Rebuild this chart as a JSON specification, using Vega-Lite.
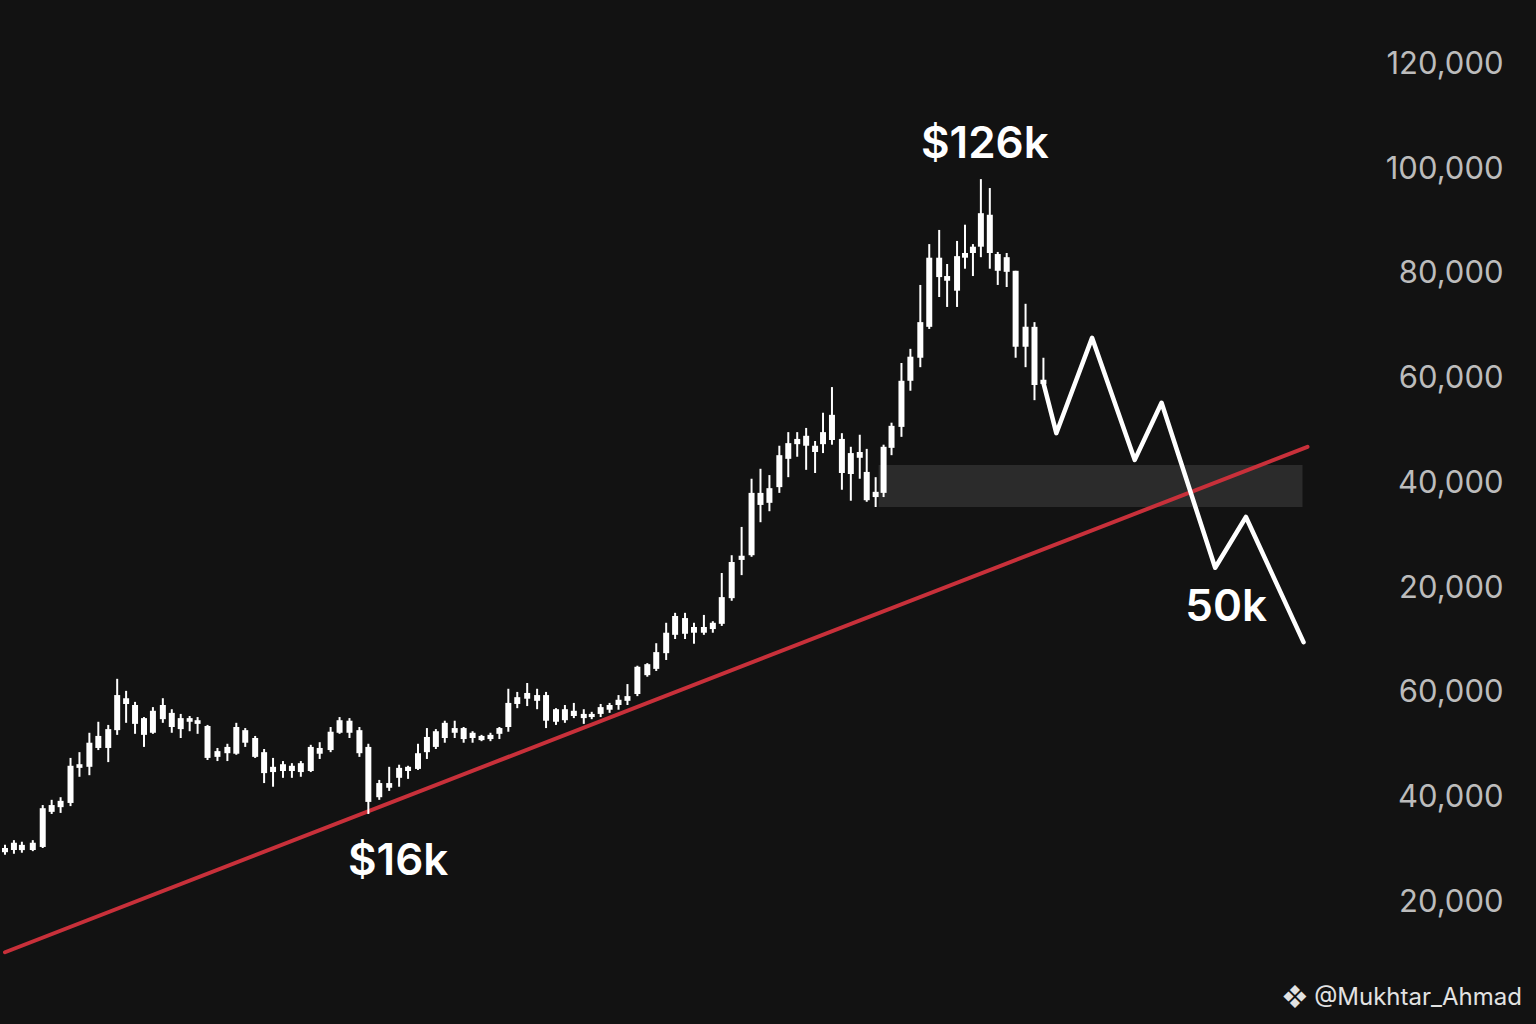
{
  "$schema": "https://vega.github.io/schema/vega-lite/v6.json",
  "width": 1380,
  "height": 1024,
  "autosize": "none",
  "padding": {"left": 0, "top": 0, "right": 156, "bottom": 0},
  "background": "#121212",
  "config": {"view": {"stroke": null}, "font": "Inter"},
  "datasets": {
    "candles": [
      {"day": 0, "open": -30.4, "close": -29.6, "high": -29.0, "low": -30.9},
      {"day": 9, "open": -30.0, "close": -28.6, "high": -28.1, "low": -30.7},
      {"day": 17, "open": -30.0, "close": -29.0, "high": -28.4, "low": -30.5},
      {"day": 28, "open": -30.0, "close": -28.6, "high": -28.1, "low": -30.2},
      {"day": 38, "open": -29.4, "close": -22.0, "high": -21.4, "low": -29.6},
      {"day": 47, "open": -22.7, "close": -21.4, "high": -20.4, "low": -23.1},
      {"day": 56, "open": -21.8, "close": -20.6, "high": -19.9, "low": -22.9},
      {"day": 66, "open": -21.0, "close": -13.9, "high": -12.4, "low": -21.6},
      {"day": 75, "open": -14.3, "close": -13.6, "high": -11.3, "low": -16.0},
      {"day": 85, "open": -14.1, "close": -9.5, "high": -7.6, "low": -15.7},
      {"day": 94, "open": -10.5, "close": -8.2, "high": -5.5, "low": -10.9},
      {"day": 104, "open": -10.5, "close": -6.9, "high": -6.1, "low": -13.2},
      {"day": 113, "open": -7.1, "close": -0.4, "high": 2.7, "low": -8.0},
      {"day": 122, "open": -1.0, "close": -2.1, "high": 0.4, "low": -5.7},
      {"day": 131, "open": -2.3, "close": -5.9, "high": -1.7, "low": -7.8},
      {"day": 140, "open": -4.8, "close": -8.0, "high": -4.6, "low": -10.3},
      {"day": 149, "open": -7.6, "close": -3.4, "high": -2.7, "low": -7.8},
      {"day": 159, "open": -5.0, "close": -2.3, "high": -1.0, "low": -5.7},
      {"day": 168, "open": -3.8, "close": -6.5, "high": -3.1, "low": -7.6},
      {"day": 177, "open": -6.9, "close": -4.8, "high": -4.0, "low": -8.6},
      {"day": 186, "open": -5.5, "close": -4.8, "high": -4.4, "low": -7.3},
      {"day": 194, "open": -5.2, "close": -5.9, "high": -4.6, "low": -7.8},
      {"day": 204, "open": -6.3, "close": -12.4, "high": -6.1, "low": -12.8},
      {"day": 214, "open": -12.2, "close": -11.1, "high": -10.5, "low": -13.0},
      {"day": 224, "open": -11.5, "close": -10.3, "high": -9.7, "low": -13.0},
      {"day": 233, "open": -11.6, "close": -6.5, "high": -5.7, "low": -11.8},
      {"day": 242, "open": -7.1, "close": -9.5, "high": -6.7, "low": -10.3},
      {"day": 252, "open": -8.6, "close": -12.2, "high": -8.2, "low": -12.4},
      {"day": 261, "open": -11.3, "close": -15.3, "high": -10.7, "low": -17.2},
      {"day": 270, "open": -15.1, "close": -14.1, "high": -12.4, "low": -17.9},
      {"day": 280, "open": -14.9, "close": -13.6, "high": -13.0, "low": -16.2},
      {"day": 289, "open": -14.9, "close": -13.9, "high": -13.4, "low": -16.2},
      {"day": 298, "open": -15.1, "close": -13.4, "high": -13.0, "low": -16.0},
      {"day": 308, "open": -14.9, "close": -10.3, "high": -9.9, "low": -15.1},
      {"day": 317, "open": -11.6, "close": -10.5, "high": -9.4, "low": -12.6},
      {"day": 328, "open": -10.9, "close": -7.4, "high": -6.5, "low": -11.3},
      {"day": 337, "open": -7.6, "close": -5.2, "high": -4.6, "low": -7.8},
      {"day": 347, "open": -5.3, "close": -7.6, "high": -4.8, "low": -8.6},
      {"day": 357, "open": -7.1, "close": -11.5, "high": -6.5, "low": -12.2},
      {"day": 366, "open": -10.3, "close": -20.8, "high": -9.7, "low": -23.1},
      {"day": 377, "open": -19.9, "close": -17.2, "high": -16.6, "low": -20.4},
      {"day": 387, "open": -18.1, "close": -17.2, "high": -14.1, "low": -18.7},
      {"day": 397, "open": -16.2, "close": -14.3, "high": -13.7, "low": -17.9},
      {"day": 406, "open": -14.9, "close": -14.1, "high": -13.9, "low": -16.4},
      {"day": 416, "open": -14.5, "close": -11.5, "high": -9.7, "low": -14.7},
      {"day": 425, "open": -11.3, "close": -8.4, "high": -6.7, "low": -12.6},
      {"day": 434, "open": -10.3, "close": -7.3, "high": -6.9, "low": -10.7},
      {"day": 443, "open": -8.6, "close": -5.7, "high": -5.3, "low": -9.5},
      {"day": 453, "open": -6.7, "close": -7.6, "high": -5.3, "low": -8.6},
      {"day": 462, "open": -6.7, "close": -8.8, "high": -6.5, "low": -9.5},
      {"day": 471, "open": -7.6, "close": -8.6, "high": -7.3, "low": -9.5},
      {"day": 480, "open": -9.0, "close": -8.2, "high": -8.0, "low": -9.2},
      {"day": 489, "open": -8.8, "close": -8.0, "high": -7.6, "low": -9.2},
      {"day": 498, "open": -7.8, "close": -6.7, "high": -6.5, "low": -8.8},
      {"day": 507, "open": -6.5, "close": -1.9, "high": 0.8, "low": -7.4},
      {"day": 516, "open": -2.1, "close": -0.8, "high": 0.2, "low": -2.9},
      {"day": 526, "open": -1.1, "close": 0.0, "high": 1.9, "low": -2.5},
      {"day": 536, "open": -0.4, "close": -1.5, "high": 0.8, "low": -3.1},
      {"day": 545, "open": -0.4, "close": -5.3, "high": 0.2, "low": -6.7},
      {"day": 555, "open": -5.5, "close": -3.1, "high": -2.9, "low": -6.1},
      {"day": 564, "open": -3.1, "close": -5.2, "high": -2.3, "low": -5.7},
      {"day": 573, "open": -4.4, "close": -3.4, "high": -1.9, "low": -4.8},
      {"day": 583, "open": -4.0, "close": -4.8, "high": -3.1, "low": -5.9},
      {"day": 591, "open": -4.6, "close": -4.0, "high": -3.6, "low": -5.0},
      {"day": 600, "open": -4.0, "close": -2.7, "high": -2.1, "low": -4.6},
      {"day": 609, "open": -3.2, "close": -2.3, "high": -1.9, "low": -3.8},
      {"day": 618, "open": -2.3, "close": -1.3, "high": -0.4, "low": -3.2},
      {"day": 627, "open": -1.5, "close": -0.6, "high": 1.7, "low": -2.3},
      {"day": 637, "open": -0.2, "close": 5.0, "high": 5.2, "low": -0.6},
      {"day": 647, "open": 5.5, "close": 3.4, "high": 5.7, "low": 3.1},
      {"day": 656, "open": 4.6, "close": 7.8, "high": 9.5, "low": 4.2},
      {"day": 666, "open": 7.6, "close": 11.5, "high": 13.4, "low": 6.3},
      {"day": 675, "open": 11.1, "close": 14.7, "high": 15.3, "low": 10.3},
      {"day": 685, "open": 14.3, "close": 11.3, "high": 15.3, "low": 10.3},
      {"day": 694, "open": 12.6, "close": 11.5, "high": 13.4, "low": 9.4},
      {"day": 704, "open": 11.5, "close": 12.6, "high": 14.9, "low": 11.1},
      {"day": 713, "open": 12.2, "close": 13.4, "high": 13.7, "low": 11.5},
      {"day": 722, "open": 13.2, "close": 18.3, "high": 22.9, "low": 12.8},
      {"day": 732, "open": 18.1, "close": 25.0, "high": 26.3, "low": 17.6},
      {"day": 742, "open": 25.4, "close": 26.2, "high": 31.7, "low": 22.5},
      {"day": 752, "open": 26.3, "close": 38.2, "high": 40.9, "low": 26.0},
      {"day": 761, "open": 38.2, "close": 35.9, "high": 42.8, "low": 32.6},
      {"day": 770, "open": 36.3, "close": 39.1, "high": 41.6, "low": 34.7},
      {"day": 780, "open": 39.3, "close": 45.4, "high": 47.2, "low": 38.2},
      {"day": 789, "open": 44.7, "close": 47.7, "high": 49.8, "low": 41.2},
      {"day": 798, "open": 47.5, "close": 48.5, "high": 49.8, "low": 45.1},
      {"day": 807, "open": 49.1, "close": 47.2, "high": 50.6, "low": 42.6},
      {"day": 816, "open": 46.0, "close": 47.2, "high": 48.1, "low": 42.0},
      {"day": 824, "open": 47.5, "close": 49.8, "high": 53.5, "low": 45.8},
      {"day": 833, "open": 48.3, "close": 53.1, "high": 58.4, "low": 47.4},
      {"day": 843, "open": 48.5, "close": 42.0, "high": 49.6, "low": 38.8},
      {"day": 852, "open": 45.8, "close": 41.8, "high": 47.0, "low": 36.7},
      {"day": 861, "open": 44.9, "close": 46.0, "high": 49.3, "low": 40.9},
      {"day": 868, "open": 42.2, "close": 36.8, "high": 46.6, "low": 36.5},
      {"day": 877, "open": 37.4, "close": 38.4, "high": 41.2, "low": 35.5},
      {"day": 885, "open": 38.2, "close": 47.0, "high": 47.4, "low": 37.4},
      {"day": 893, "open": 46.8, "close": 51.0, "high": 51.6, "low": 45.4},
      {"day": 903, "open": 50.8, "close": 59.6, "high": 63.0, "low": 48.9},
      {"day": 912, "open": 59.6, "close": 64.2, "high": 65.7, "low": 57.7},
      {"day": 922, "open": 64.0, "close": 70.8, "high": 77.9, "low": 62.2},
      {"day": 931, "open": 69.9, "close": 83.1, "high": 85.7, "low": 69.5},
      {"day": 941, "open": 83.1, "close": 79.4, "high": 88.4, "low": 75.6},
      {"day": 949, "open": 78.7, "close": 79.6, "high": 81.9, "low": 73.7},
      {"day": 959, "open": 76.8, "close": 83.4, "high": 86.3, "low": 73.7},
      {"day": 967, "open": 83.1, "close": 84.0, "high": 89.4, "low": 81.0},
      {"day": 975, "open": 84.0, "close": 85.2, "high": 85.7, "low": 79.6},
      {"day": 983, "open": 85.2, "close": 91.6, "high": 98.1, "low": 83.2},
      {"day": 992, "open": 91.3, "close": 84.0, "high": 96.4, "low": 81.0},
      {"day": 1000, "open": 83.8, "close": 80.6, "high": 84.2, "low": 77.9},
      {"day": 1009, "open": 80.4, "close": 83.2, "high": 84.0, "low": 77.5},
      {"day": 1018, "open": 80.6, "close": 66.1, "high": 80.6, "low": 64.0},
      {"day": 1028, "open": 66.1, "close": 69.9, "high": 74.3, "low": 62.2},
      {"day": 1037, "open": 69.9, "close": 58.8, "high": 70.8, "low": 55.9},
      {"day": 1046, "open": 59.8, "close": 59.0, "high": 64.0, "low": 59.0}
    ],
    "projection": [
      {"day": 1046, "value": 59.2},
      {"day": 1059, "value": 49.6},
      {"day": 1095, "value": 67.8},
      {"day": 1138, "value": 44.5},
      {"day": 1165, "value": 55.4},
      {"day": 1219, "value": 23.9},
      {"day": 1250, "value": 33.6},
      {"day": 1308, "value": 9.7}
    ],
    "trend": [
      {"day": 0, "value": -49.5},
      {"day": 1312, "value": 47.0}
    ],
    "zone": [
      {"start": 880, "end": 1307, "low": 35.5, "high": 43.5}
    ],
    "notes": [
      {"label": "$126k", "day": 987, "value": 104.6},
      {"label": "$16k", "day": 396, "value": -32.3},
      {"label": "50k", "day": 1230, "value": 16.2}
    ],
    "credit": [
      {"label": "❖ @Mukhtar_Ahmad", "day": 1528, "value": -58.2}
    ]
  },
  "layer": [
    {
      "data": {"name": "zone"},
      "mark": {"type": "rect", "color": "#2b2b2b"},
      "encoding": {
        "x": {"field": "start", "type": "quantitative", "scale": {"domain": [0, 1380], "nice": false, "zero": false}, "axis": null},
        "x2": {"field": "end"},
        "y": {
          "field": "low",
          "type": "quantitative",
          "scale": {"domain": [-63.2, 132.3], "nice": false, "zero": false},
          "axis": {
            "orient": "right",
            "values": [-40, -20, 0, 20, 40, 60, 80, 100, 120],
            "labelExpr": "format((datum.value > 0 ? datum.value : datum.value + 60) * 1000, ',')",
            "grid": false,
            "domain": false,
            "ticks": false,
            "labelAlign": "right",
            "labelPadding": 123,
            "labelFontSize": 31,
            "labelFont": "Inter",
            "labelColor": "#bcbcbc",
            "title": null
          }
        },
        "y2": {"field": "high"}
      }
    },
    {
      "data": {"name": "trend"},
      "mark": {"type": "line", "color": "#c8303a", "strokeWidth": 4, "strokeCap": "round"},
      "encoding": {
        "x": {"field": "day", "type": "quantitative"},
        "y": {"field": "value", "type": "quantitative"}
      }
    },
    {
      "data": {"name": "candles"},
      "mark": {"type": "rule", "color": "#ffffff", "strokeWidth": 2},
      "encoding": {
        "x": {"field": "day", "type": "quantitative"},
        "y": {"field": "low", "type": "quantitative"},
        "y2": {"field": "high"}
      }
    },
    {
      "data": {"name": "candles"},
      "mark": {"type": "bar", "color": "#ffffff", "width": 6},
      "encoding": {
        "x": {"field": "day", "type": "quantitative"},
        "y": {"field": "open", "type": "quantitative"},
        "y2": {"field": "close"}
      }
    },
    {
      "data": {"name": "projection"},
      "mark": {"type": "line", "color": "#ffffff", "strokeWidth": 4.5, "strokeCap": "round", "strokeJoin": "round"},
      "encoding": {
        "x": {"field": "day", "type": "quantitative"},
        "y": {"field": "value", "type": "quantitative"}
      }
    },
    {
      "data": {"name": "notes"},
      "mark": {"type": "text", "color": "#ffffff", "fontSize": 44, "fontWeight": 600, "align": "center", "baseline": "middle"},
      "encoding": {
        "x": {"field": "day", "type": "quantitative"},
        "y": {"field": "value", "type": "quantitative"},
        "text": {"field": "label"}
      }
    },
    {
      "data": {"name": "credit"},
      "mark": {"type": "text", "color": "#e2e2e2", "fontSize": 24, "align": "right", "baseline": "middle"},
      "encoding": {
        "x": {"field": "day", "type": "quantitative"},
        "y": {"field": "value", "type": "quantitative"},
        "text": {"field": "label"}
      }
    }
  ]
}
